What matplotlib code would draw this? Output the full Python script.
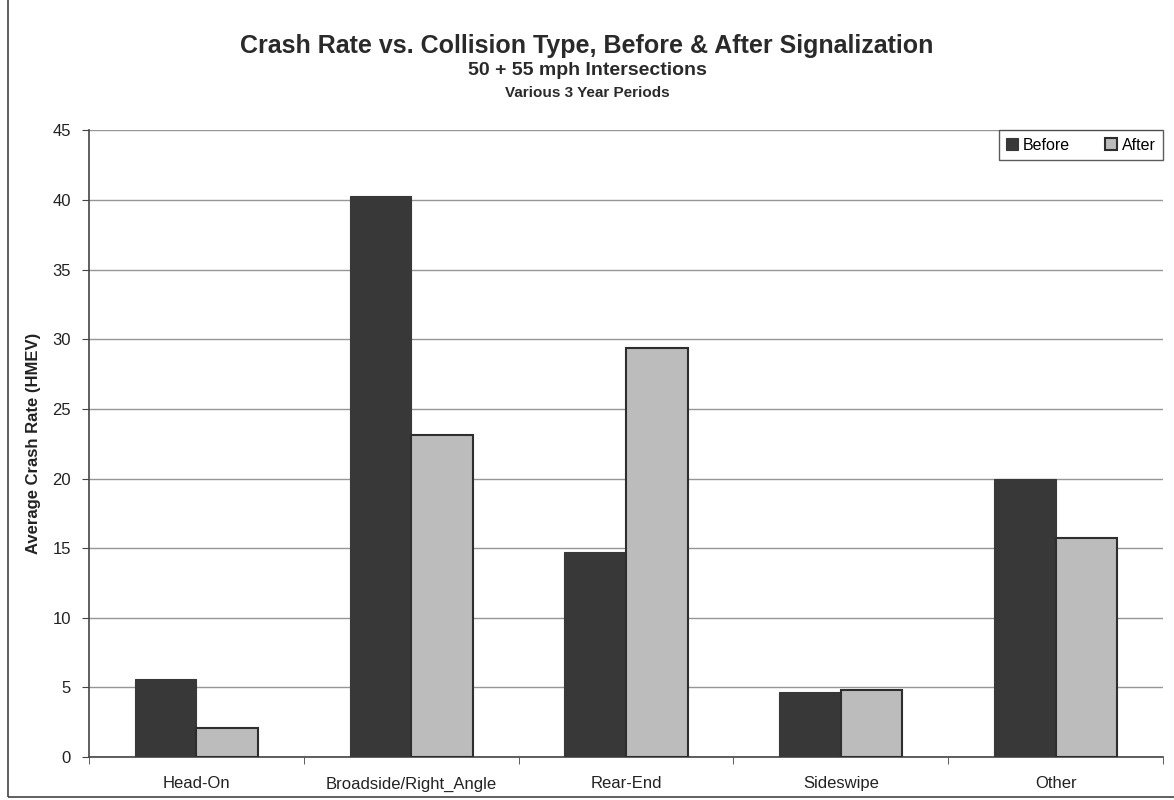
import matplotlib
matplotlib.use("Agg")
import matplotlib.pyplot as plt
import numpy as np
from matplotlib.patches import Rectangle

plt.rcParams['font.family'] = ['Liberation Sans', 'DejaVu Sans']

categories = ["Head-On", "Broadside/Right_Angle", "Rear-End", "Sideswipe", "Other"]
before = [5.6, 40.3, 14.7, 4.7, 20.0]
after = [2.1, 23.1, 29.4, 4.8, 15.7]
yticks = [0, 5, 10, 15, 20, 25, 30, 35, 40, 45]

title_lines = ["Crash Rate vs. Collision Type, Before & After Signalization",
               "50 + 55 mph Intersections",
               "Various 3 Year Periods"]

fig = plt.figure(figsize=(11.74, 8.0), dpi=100)
fig.patch.set_facecolor("white")
ax = fig.add_axes([0.0758, 0.0537, 0.9148, 0.7832])

x = np.arange(len(categories))
w = 0.287
ax.bar(x - w / 2, before, width=w, color="#383838", edgecolor="#383838",
       linewidth=0.8, label="Before", zorder=3)
ax.bar(x + w / 2, after, width=w, color="#bcbcbc", edgecolor="#2e2e2e",
       linewidth=1.5, label="After", zorder=3)

ax.set_xlim(-0.5, len(categories) - 0.5)
ax.set_ylim(0, 45)
ax.set_yticks(yticks)
ax.set_yticklabels([str(v) for v in yticks], fontsize=12, color="#222222")
ax.set_xticks(x)
ax.set_xticklabels(categories, fontsize=12, color="#222222")
ax.tick_params(axis="x", which="major", length=0, pad=14)
ax.set_xticks(np.arange(-0.5, len(categories), 1.0), minor=True)
ax.tick_params(axis="x", which="minor", length=5, direction="out", color="#444444")
ax.tick_params(axis="y", length=5, direction="out", color="#444444", pad=8)

ax.yaxis.grid(True, color="#969696", linewidth=1.0, zorder=0)
ax.set_axisbelow(True)
for s in ["top", "right"]:
    ax.spines[s].set_visible(False)
for s in ["left", "bottom"]:
    ax.spines[s].set_color("#444444")
    ax.spines[s].set_linewidth(1.2)

ax.set_ylabel("Average Crash Rate (HMEV)", fontsize=12, fontweight="bold",
              color="#222222", labelpad=8)

leg = ax.legend(loc="upper right", ncol=2, fontsize=11.5, frameon=True,
                fancybox=False, edgecolor="#333333", handlelength=0.75,
                handleheight=0.75, handletextpad=0.3, columnspacing=2.2,
                borderpad=0.45, borderaxespad=0.0, bbox_to_anchor=(1.0, 1.0))
leg.get_frame().set_linewidth(1.0)

fig.text(0.5, 0.9425, title_lines[0], ha="center", va="center",
         fontsize=18, fontweight="bold", color="#2a2a2a")
fig.text(0.5, 0.912, title_lines[1], ha="center", va="center",
         fontsize=14, fontweight="bold", color="#2a2a2a")
fig.text(0.5, 0.8835, title_lines[2], ha="center", va="center",
         fontsize=11, fontweight="bold", color="#2a2a2a")

# outer frame of the chart area
fig.patches.append(Rectangle((0.007, 0.004), 1.0, 1.0, transform=fig.transFigure,
                             fill=False, edgecolor="#444444", linewidth=1.2))

fig.savefig("out.png", dpi=100)
